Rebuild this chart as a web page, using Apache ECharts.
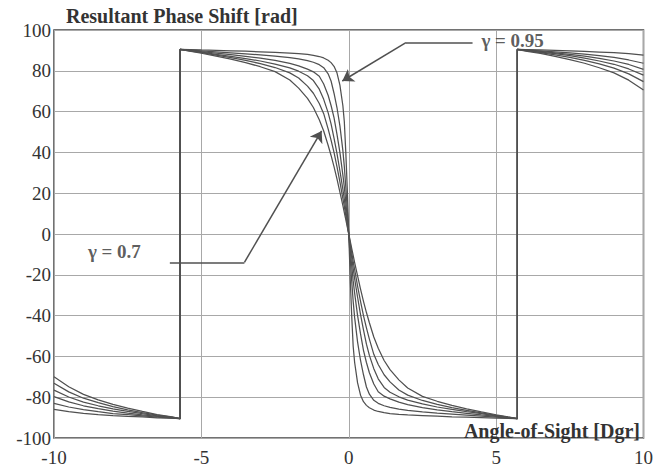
<!DOCTYPE html>
<html>
<head>
<meta charset="utf-8">
<script src="https://cdn.jsdelivr.net/npm/echarts@6/dist/echarts.min.js"></script>
<style>
  html, body { margin: 0; padding: 0; background: #fff; }
  #chart { width: 656px; height: 470px; }
</style>
</head>
<body>
<div id="chart"></div>
<script>
// angle-of-sight samples [Dgr]; the jumps at +-5.72 appear twice
const angles = [
  -10, -9.5, -9, -8.5, -8, -7.5, -7, -6.5, -6, -5.72,
  -5.72, -5.4, -5, -4.5, -4, -3.5, -3, -2.5, -2, -1.7, -1.4, -1.2, -1, -0.85, -0.7, -0.6, -0.5, -0.4, -0.3, -0.2, -0.15, -0.1, -0.05,
  0, 0.05, 0.1, 0.15, 0.2, 0.3, 0.4, 0.5, 0.6, 0.7, 0.85, 1, 1.2, 1.4, 1.7, 2, 2.5, 3, 3.5, 4, 4.5, 5, 5.4, 5.72,
  5.72, 6, 6.5, 7, 7.5, 8, 8.5, 9, 9.5, 10
]

// resultant phase shift, one array per gamma
const phase095 = [
  -86.0, -87.1, -87.9, -88.5, -89.0, -89.4, -89.7, -90.1, -90.3, -90.5,
  90.5, 90.4, 90.2, 90.0, 89.8, 89.6, 89.3, 89.0, 88.7, 88.4, 88.0, 87.6, 87.0, 86.3, 85.2, 84.0, 82.2, 79, 73, 63, 55, 40, 22,
  0, -22, -40, -55, -63, -73, -79, -82.2, -84.0, -85.2, -86.3, -87.0, -87.6, -88.0, -88.4, -88.7, -89.0, -89.3, -89.6, -89.8, -90.0, -90.2, -90.4, -90.5,
  90.5, 90.4, 90.2, 90.0, 89.8, 89.5, 89.2, 88.9, 88.4, 87.7
]
const phase090 = [
  -83.0, -84.8, -86.1, -87.1, -88.0, -88.6, -89.2, -89.8, -90.2, -90.5,
  90.5, 90.2, 89.8, 89.3, 88.8, 88.3, 87.8, 87.2, 86.5, 85.8, 85.0, 84.2, 83.0, 81.5, 78.5, 75.0, 69, 62, 53, 41, 33, 23, 12,
  0, -12, -23, -33, -41, -53, -62, -69, -75.0, -78.5, -81.5, -83.0, -84.2, -85.0, -85.8, -86.5, -87.2, -87.8, -88.3, -88.8, -89.3, -89.8, -90.2, -90.5,
  90.5, 90.2, 89.8, 89.3, 88.8, 88.2, 87.4, 86.6, 85.3, 83.7
]
const phase085 = [
  -79.7, -82.3, -84.2, -85.6, -86.8, -87.8, -88.7, -89.4, -90.1, -90.5,
  90.5, 90.0, 89.4, 88.7, 87.9, 87.1, 86.2, 85.1, 83.6, 82.4, 80.8, 79.5, 77.3, 73.5, 68, 63, 57, 49, 40, 29, 23, 15.5, 8,
  0, -8, -15.5, -23, -29, -40, -49, -57, -63, -68, -73.5, -77.3, -79.5, -80.8, -82.4, -83.6, -85.1, -86.2, -87.1, -87.9, -88.7, -89.4, -90.0, -90.5,
  90.5, 90.1, 89.5, 88.8, 88.0, 87.2, 86.1, 84.8, 83.1, 80.7
]
const phase080 = [
  -76.5, -79.9, -82.4, -84.2, -85.7, -87.0, -88.1, -89.1, -89.9, -90.5,
  90.5, 89.9, 89.1, 88.1, 87.1, 86.0, 84.8, 83.3, 81.4, 79.8, 77.6, 75.2, 71, 66, 59.5, 54, 47, 39.5, 31, 22, 17, 11.5, 6,
  0, -6, -11.5, -17, -22, -31, -39.5, -47, -54, -59.5, -66, -71, -75.2, -77.6, -79.8, -81.4, -83.3, -84.8, -86.0, -87.1, -88.1, -89.1, -89.9, -90.5,
  90.5, 90.0, 89.2, 88.4, 87.4, 86.2, 84.8, 83.2, 80.9, 77.9
]
const phase075 = [
  -73.2, -77.4, -80.5, -82.7, -84.6, -86.2, -87.6, -88.8, -89.8, -90.5,
  90.5, 89.8, 88.9, 87.7, 86.5, 85.1, 83.5, 81.6, 79.0, 76.5, 72.5, 69, 64, 59, 51.5, 46, 40, 33, 25.5, 17.5, 13.5, 9, 4.5,
  0, -4.5, -9, -13.5, -17.5, -25.5, -33, -40, -46, -51.5, -59, -64, -69, -72.5, -76.5, -79.0, -81.6, -83.5, -85.1, -86.5, -87.7, -88.9, -89.8, -90.5,
  90.5, 89.9, 88.9, 87.8, 86.6, 85.1, 83.4, 81.3, 78.5, 74.7
]
const phase070 = [
  -70.0, -74.9, -78.6, -81.3, -83.5, -85.4, -87.0, -88.5, -89.7, -90.5,
  90.5, 89.7, 88.6, 87.2, 85.7, 84.0, 82.0, 79.6, 75.5, 71.5, 66.5, 62, 56, 50.5, 43.5, 38.5, 33, 27, 20.5, 14, 10.5, 7, 3.5,
  0, -3.5, -7, -10.5, -14, -20.5, -27, -33, -38.5, -43.5, -50.5, -56, -62, -66.5, -71.5, -75.5, -79.6, -82.0, -84.0, -85.7, -87.2, -88.6, -89.7, -90.5,
  90.5, 89.7, 88.5, 87.1, 85.5, 83.7, 81.5, 79.0, 75.4, 70.6
]

const gammaNames = ['0.95', '0.9', '0.85', '0.8', '0.75', '0.7']
const phaseSets = [phase095, phase090, phase085, phase080, phase075, phase070]

// callout leaders (data coords): plain part, then arrow part
const leaderPlain = [
  [[4.2, 93.8], [1.94, 93.8]],
  [[-6.07, -13.9], [-3.54, -13.9]],
]
const leaderArrow = [
  [[1.94, 93.8], [-0.22, 75]],
  [[-3.54, -13.9], [-0.92, 50.5]],
]
const labelSpots = [
  { value: [4.5, 94.8], text: 'γ = 0.95' },
  { value: [-8.85, -8.7], text: 'γ = 0.7' },
]

const FONT = 'Liberation Serif'
const INK = '#333'
const LINE = '#505050'

const chart = echarts.init(document.getElementById('chart'), null, { renderer: 'svg' })

const curveSeries = phaseSets.map((ys, i) => ({
  name: 'γ = ' + gammaNames[i],
  type: 'line',
  data: angles.map((a, k) => [a, ys[k]]),
  showSymbol: false,
  smooth: false,
  lineStyle: { color: LINE, width: 1.25 },
  z: 3,
}))

const option = {
  animation: false,
  backgroundColor: '#fff',
  grid: {
    left: 54,
    right: 11,
    top: 30,
    bottom: 32,
    show: true,
    borderColor: '#444',
    borderWidth: 1.5,
  },
  title: [
    {
      text: 'Resultant Phase Shift [rad]',
      left: 61,
      top: 1,
      textStyle: { fontFamily: FONT, fontWeight: 'bold', fontSize: 20, color: INK },
    },
    {
      text: 'Angle-of-Sight [Dgr]',
      right: 11,
      top: 416,
      textStyle: { fontFamily: FONT, fontWeight: 'bold', fontSize: 20, color: INK },
    },
  ],
  xAxis: {
    type: 'value',
    min: -10,
    max: 10,
    interval: 5,
    axisLine: { show: false },
    axisTick: { show: false },
    axisLabel: { fontFamily: FONT, fontSize: 19, color: INK, margin: 10 },
    splitLine: { lineStyle: { color: '#a8a8a8', width: 1 } },
  },
  yAxis: {
    type: 'value',
    min: -100,
    max: 100,
    interval: 20,
    axisLine: { show: false },
    axisTick: { show: false },
    axisLabel: { fontFamily: FONT, fontSize: 19, color: INK, margin: 3 },
    splitLine: { lineStyle: { color: '#a8a8a8', width: 1 } },
  },
  series: [
    ...curveSeries,
    {
      type: 'lines',
      coordinateSystem: 'cartesian2d',
      symbol: 'none',
      lineStyle: { color: LINE, width: 1.5, opacity: 1 },
      data: leaderPlain.map(c => ({ coords: c })),
      z: 4,
    },
    {
      type: 'lines',
      coordinateSystem: 'cartesian2d',
      symbol: ['none', 'arrow'],
      symbolSize: 11,
      lineStyle: { color: LINE, width: 1.5, opacity: 1 },
      data: leaderArrow.map(c => ({ coords: c })),
      z: 4,
    },
    {
      type: 'scatter',
      symbolSize: 0,
      data: labelSpots.map(d => ({
        value: d.value,
        label: {
          show: true,
          position: 'right',
          distance: 0,
          formatter: d.text,
          fontFamily: FONT,
          fontWeight: 'bold',
          fontSize: 19,
          color: INK,
        },
      })),
      z: 5,
    },
  ],
}

chart.setOption(option)
</script>
</body>
</html>
